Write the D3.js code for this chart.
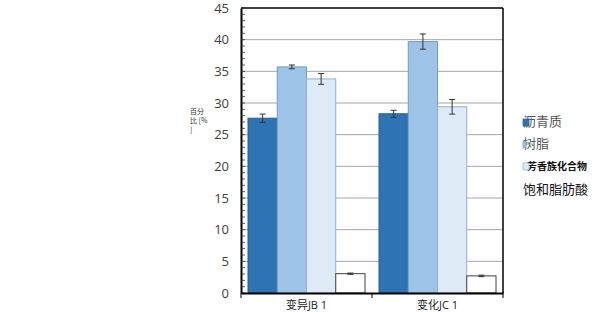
<!DOCTYPE html>
<meta charset="utf-8">
<head>
<script src="https://d3js.org/d3.v7.min.js"></script>
<style>
  body { margin: 0; background: #fff; font-family: "Open Sans", "Noto Sans CJK SC", sans-serif; }
</style>
</head>
<body>
<svg></svg>
<script>
// Data
var categories = ["变异JB 1", "变化JC 1"];
var series = ["沥青质", "树脂", "芳香族化合物", "饱和脂肪酸"];
var values = [
  [27.6, 35.7, 33.8, 3.05],
  [28.3, 39.7, 29.4, 2.7]
];
var errors = [
  [0.65, 0.3, 0.85, 0.1],
  [0.55, 1.2, 1.15, 0.12]
];
var yTicks = [0, 5, 10, 15, 20, 25, 30, 35, 40, 45];

var width = 600, height = 312;
var x0 = 241, x1 = 503, yTop = 8, yBot = 293;
var fills = ["#2e74b5", "#9dc3e6", "#deebf7", "#ffffff"];
var strokes = ["#2a5f91", "#6f9cc7", "#8fb0d0", "#404040"];

var svg = d3.select("svg").attr("width", width).attr("height", height);

var y = d3.scaleLinear().domain([0, 45]).range([yBot, yTop]);
var xg = d3.scaleBand().domain(categories).range([x0, x1]).paddingInner(0).paddingOuter(0);
var xs = d3.scaleBand().domain(series).range([7, xg.bandwidth() - 7]);

// gridlines
svg.append("g").selectAll("line")
  .data(yTicks.filter(function(d) { return d > 0 && d < 45; }))
  .enter().append("line")
  .attr("x1", x0).attr("x2", x1)
  .attr("y1", function(d) { return y(d); }).attr("y2", function(d) { return y(d); })
  .attr("stroke", "#a6a6a6").attr("stroke-width", 1);

// bars
var groups = svg.append("g").selectAll("g")
  .data(categories).enter().append("g")
  .attr("transform", function(d) { return "translate(" + xg(d) + ",0)"; });

groups.each(function(c, ci) {
  var g = d3.select(this);
  series.forEach(function(s, si) {
    var v = values[ci][si], e = errors[ci][si];
    g.append("rect")
      .attr("x", xs(s)).attr("width", xs.bandwidth())
      .attr("y", y(v)).attr("height", yBot - y(v))
      .attr("fill", fills[si]).attr("stroke", strokes[si]).attr("stroke-width", 1);
    var cx = xs(s) + xs.bandwidth() / 2;
    g.append("line").attr("x1", cx).attr("x2", cx)
      .attr("y1", y(v + e)).attr("y2", y(v - e)).attr("stroke", "#333");
    [v + e, v - e].forEach(function(t) {
      g.append("line").attr("x1", cx - 3).attr("x2", cx + 3)
        .attr("y1", y(t)).attr("y2", y(t)).attr("stroke", "#333");
    });
  });
});

// frame
svg.append("line").attr("x1", x0).attr("x2", x1).attr("y1", yTop).attr("y2", yTop).attr("stroke", "#000").attr("stroke-width", 1.5);
svg.append("line").attr("x1", x1).attr("x2", x1).attr("y1", yTop).attr("y2", yBot).attr("stroke", "#000").attr("stroke-width", 1.5);

// y axis
var yAxis = d3.axisLeft(y).tickValues(yTicks).tickSize(0).tickPadding(12);
var ya = svg.append("g").attr("transform", "translate(" + x0 + ",0)").call(yAxis);
ya.select(".domain").attr("stroke", "#000").attr("stroke-width", 2);
ya.selectAll("text").attr("font-size", 13).attr("fill", "#404040").attr("font-family", "Open Sans, sans-serif");
// minor ticks
svg.append("g").selectAll("line")
  .data(d3.range(0, 46, 1))
  .enter().append("line")
  .attr("x1", x0).attr("x2", x0 + 4)
  .attr("y1", function(d) { return y(d); }).attr("y2", function(d) { return y(d); })
  .attr("stroke", "#333").attr("stroke-width", 0.8);

// x axis
var xAxis = d3.axisBottom(xg).tickSize(0).tickPadding(8);
var xa = svg.append("g").attr("transform", "translate(0," + yBot + ")").call(xAxis);
xa.select(".domain").attr("stroke", "#000").attr("stroke-width", 2);
xa.selectAll("text").attr("font-size", 11).attr("fill", "#222")
  .attr("font-family", "Open Sans, Noto Sans CJK SC, sans-serif");
svg.append("g").selectAll("line")
  .data([x0, xg(categories[1]), x1])
  .enter().append("line")
  .attr("x1", function(d) { return d; }).attr("x2", function(d) { return d; })
  .attr("y1", yBot).attr("y2", yBot + 5).attr("stroke", "#000");

// y label
var yl = svg.append("text").attr("font-size", 7).attr("fill", "#333")
  .attr("font-family", "Noto Sans CJK SC, sans-serif");
["百分", "比 [%", "]"].forEach(function(t, i) {
  yl.append("tspan").attr("x", 190).attr("y", 114 + i * 9).text(t);
});

// legend
var leg = [
  { y: 126, size: 13, color: "#595959", weight: "normal" },
  { y: 148, size: 13, color: "#595959", weight: "normal" },
  { y: 170, size: 10, color: "#111", weight: "bold" },
  { y: 194, size: 13, color: "#111", weight: "normal" }
];
series.forEach(function(s, i) {
  var L = leg[i];
  svg.append("text").attr("x", i === 2 ? 527 : 523).attr("y", L.y)
    .attr("font-size", L.size).attr("font-weight", L.weight).attr("fill", L.color)
    .attr("font-family", "Noto Sans CJK SC, sans-serif").text(s);
  if (i < 3) {
    svg.append("rect").attr("x", 523).attr("y", L.y - 7).attr("width", i === 1 ? 3 : 6).attr("height", 7)
      .attr("fill", fills[i]).attr("stroke", strokes[i]).attr("stroke-width", 0.7);
  }
});
</script>
</body>
</html>
